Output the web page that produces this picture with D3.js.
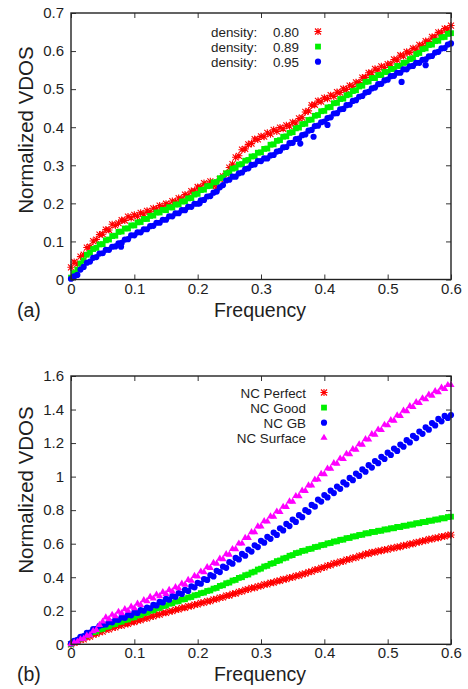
<!DOCTYPE html>
<html>
<head>
<meta charset="utf-8">
<script src="https://cdn.jsdelivr.net/npm/d3@7"></script>
<style>
  html, body { margin: 0; padding: 0; background: #fff; }
  svg { display: block; font-family: "Liberation Sans", Arial, Helvetica, sans-serif; }
</style>
</head>
<body>
<svg id="chart" width="468" height="689"></svg>
<script>
// ---------------- DATA ----------------
// frequency grid (step 0.005, 0 .. 0.6)
const freq = d3.range(121).map(i => Math.round(i * 5) / 1000);

const xTicks = [0, 0.1, 0.2, 0.3, 0.4, 0.5, 0.6];
const xTickLabels = ["0", "0.1", "0.2", "0.3", "0.4", "0.5", "0.6"];
const yTicksA = [0, 0.1, 0.2, 0.3, 0.4, 0.5, 0.6, 0.7];
const yTickLabelsA = ["0", "0.1", "0.2", "0.3", "0.4", "0.5", "0.6", "0.7"];
const yTicksB = [0, 0.2, 0.4, 0.6, 0.8, 1, 1.2, 1.4, 1.6];
const yTickLabelsB = ["0", "0.2", "0.4", "0.6", "0.8", "1", "1.2", "1.4", "1.6"];

const densityLabel = "density:";
const densities = ["0.80", "0.89", "0.95"];
const seriesNamesB = ["NC Perfect", "NC Good", "NC GB", "NC Surface"];

// Panel (a)
const density080 = [
  0.032,0.046,0.041,0.060,0.065,0.084,0.086,0.101,0.105,0.118,
  0.119,0.131,0.130,0.145,0.142,0.148,0.156,0.155,0.165,0.162,
  0.170,0.166,0.175,0.172,0.180,0.178,0.187,0.185,0.194,0.191,
  0.199,0.196,0.206,0.204,0.214,0.211,0.223,0.221,0.232,0.233,
  0.243,0.242,0.253,0.249,0.258,0.247,0.240,0.264,0.271,0.278,
  0.294,0.303,0.321,0.325,0.341,0.343,0.355,0.357,0.369,0.368,
  0.376,0.375,0.385,0.382,0.393,0.389,0.399,0.396,0.405,0.403,
  0.413,0.411,0.423,0.425,0.440,0.443,0.458,0.459,0.469,0.467,
  0.477,0.475,0.484,0.481,0.492,0.491,0.501,0.499,0.509,0.507,
  0.518,0.517,0.530,0.531,0.543,0.543,0.553,0.551,0.560,0.557,
  0.566,0.566,0.578,0.577,0.589,0.587,0.598,0.596,0.607,0.605,
  0.616,0.615,0.626,0.625,0.637,0.637,0.649,0.648,0.659,0.658,
  0.667];
const density089 = [
  0.005,0.017,0.026,0.042,0.050,0.065,0.070,0.080,0.083,0.092,
  0.093,0.103,0.105,0.114,0.115,0.125,0.126,0.134,0.134,0.142,
  0.142,0.150,0.151,0.159,0.159,0.167,0.168,0.176,0.176,0.183,
  0.182,0.190,0.189,0.197,0.197,0.205,0.205,0.213,0.214,0.223,
  0.225,0.235,0.236,0.245,0.246,0.255,0.256,0.266,0.268,0.279,
  0.281,0.291,0.293,0.302,0.303,0.312,0.314,0.323,0.324,0.333,
  0.334,0.343,0.344,0.354,0.355,0.364,0.366,0.375,0.376,0.385,
  0.387,0.397,0.399,0.408,0.409,0.419,0.420,0.430,0.432,0.442,
  0.443,0.452,0.453,0.463,0.464,0.474,0.475,0.484,0.486,0.495,
  0.497,0.507,0.509,0.519,0.520,0.529,0.529,0.537,0.537,0.545,
  0.545,0.553,0.553,0.561,0.561,0.569,0.570,0.579,0.581,0.592,
  0.595,0.605,0.607,0.616,0.617,0.626,0.627,0.636,0.637,0.645,
  0.647];
const density095 = [
  0.002,0.008,0.012,0.026,0.033,0.044,0.047,0.057,0.059,0.068,
  0.069,0.078,0.078,0.086,0.087,0.095,0.096,0.105,0.106,0.116,
  0.116,0.124,0.124,0.132,0.132,0.140,0.141,0.149,0.149,0.157,
  0.157,0.166,0.166,0.174,0.174,0.182,0.182,0.191,0.191,0.199,
  0.199,0.208,0.209,0.218,0.219,0.228,0.231,0.242,0.248,0.260,
  0.262,0.270,0.270,0.279,0.281,0.290,0.292,0.301,0.302,0.311,
  0.311,0.318,0.318,0.326,0.327,0.336,0.338,0.347,0.348,0.358,
  0.359,0.369,0.370,0.379,0.381,0.391,0.393,0.403,0.404,0.413,
  0.415,0.424,0.426,0.436,0.437,0.447,0.448,0.458,0.459,0.469,
  0.471,0.480,0.482,0.491,0.493,0.502,0.504,0.513,0.514,0.523,
  0.525,0.534,0.535,0.543,0.543,0.552,0.552,0.560,0.561,0.569,
  0.569,0.577,0.578,0.586,0.587,0.596,0.598,0.607,0.608,0.617,
  0.620];
// a few scattered 0.95 points below the main band: [frequency, value]
const density095Outliers = [[0.203,0.200],[0.362,0.357],[0.383,0.375],[0.405,0.406],[0.522,0.519],[0.560,0.563],[0.079,0.086]];

// Panel (b)
const ncPerfect = [
  0.000,0.010,0.014,0.026,0.030,0.042,0.046,0.058,0.062,0.073,
  0.076,0.087,0.089,0.099,0.101,0.111,0.112,0.121,0.122,0.132,
  0.133,0.143,0.144,0.154,0.155,0.165,0.166,0.176,0.177,0.187,
  0.188,0.197,0.198,0.207,0.208,0.217,0.218,0.227,0.228,0.237,
  0.238,0.247,0.248,0.257,0.258,0.268,0.269,0.279,0.280,0.290,
  0.291,0.301,0.303,0.313,0.315,0.325,0.327,0.336,0.337,0.346,
  0.348,0.357,0.358,0.367,0.368,0.377,0.379,0.388,0.389,0.398,
  0.399,0.408,0.409,0.419,0.421,0.431,0.434,0.444,0.446,0.456,
  0.459,0.469,0.472,0.482,0.484,0.493,0.495,0.505,0.506,0.516,
  0.517,0.527,0.529,0.539,0.540,0.549,0.549,0.557,0.557,0.565,
  0.565,0.573,0.573,0.581,0.581,0.590,0.590,0.599,0.599,0.608,
  0.609,0.617,0.618,0.627,0.627,0.635,0.635,0.643,0.643,0.651,
  0.652];
const ncGood = [
  0.000,0.013,0.020,0.034,0.040,0.054,0.059,0.072,0.076,0.088,
  0.092,0.104,0.107,0.118,0.121,0.132,0.135,0.145,0.148,0.159,
  0.161,0.172,0.175,0.186,0.189,0.200,0.203,0.214,0.217,0.228,
  0.231,0.242,0.245,0.255,0.257,0.267,0.269,0.279,0.282,0.292,
  0.295,0.305,0.308,0.318,0.321,0.332,0.336,0.348,0.352,0.364,
  0.368,0.380,0.384,0.396,0.400,0.412,0.416,0.428,0.433,0.446,
  0.451,0.464,0.468,0.480,0.484,0.496,0.500,0.512,0.516,0.528,
  0.532,0.544,0.547,0.557,0.559,0.568,0.570,0.580,0.582,0.591,
  0.593,0.602,0.604,0.613,0.614,0.623,0.624,0.633,0.634,0.643,
  0.644,0.652,0.653,0.662,0.662,0.670,0.670,0.677,0.677,0.685,
  0.685,0.692,0.692,0.700,0.699,0.707,0.707,0.714,0.714,0.722,
  0.722,0.729,0.729,0.737,0.737,0.744,0.744,0.752,0.751,0.759,
  0.761];
const ncGB = [
  0.005,0.020,0.026,0.045,0.049,0.068,0.070,0.090,0.092,0.110,
  0.116,0.118,0.133,0.131,0.147,0.146,0.161,0.158,0.176,0.173,
  0.190,0.187,0.204,0.200,0.219,0.215,0.235,0.232,0.253,0.250,
  0.271,0.266,0.288,0.283,0.306,0.300,0.325,0.318,0.345,0.340,
  0.366,0.361,0.389,0.384,0.413,0.405,0.438,0.431,0.463,0.456,
  0.490,0.481,0.515,0.506,0.539,0.528,0.565,0.553,0.590,0.580,
  0.617,0.606,0.641,0.629,0.666,0.652,0.692,0.679,0.718,0.705,
  0.744,0.730,0.770,0.758,0.800,0.790,0.831,0.821,0.863,0.851,
  0.890,0.876,0.916,0.902,0.941,0.927,0.966,0.953,0.992,0.979,
  1.018,1.004,1.043,1.029,1.068,1.054,1.093,1.080,1.118,1.105,
  1.143,1.129,1.167,1.153,1.191,1.178,1.217,1.204,1.243,1.230,
  1.269,1.255,1.294,1.280,1.319,1.305,1.344,1.330,1.362,1.350,
  1.367];
const ncSurface = [
  0.000,0.010,0.015,0.030,0.033,0.052,0.055,0.078,0.086,0.116,
  0.136,0.160,0.150,0.176,0.168,0.194,0.186,0.210,0.200,0.225,
  0.216,0.242,0.235,0.263,0.257,0.283,0.273,0.297,0.287,0.311,
  0.301,0.324,0.315,0.341,0.334,0.362,0.356,0.384,0.379,0.408,
  0.404,0.434,0.430,0.460,0.456,0.485,0.481,0.511,0.508,0.538,
  0.535,0.568,0.567,0.601,0.601,0.635,0.635,0.669,0.669,0.703,
  0.703,0.734,0.732,0.763,0.761,0.792,0.789,0.820,0.819,0.852,
  0.851,0.884,0.883,0.916,0.915,0.948,0.948,0.982,0.983,1.016,
  1.015,1.048,1.047,1.080,1.077,1.108,1.105,1.136,1.133,1.164,
  1.161,1.193,1.191,1.223,1.221,1.253,1.250,1.281,1.278,1.309,
  1.306,1.337,1.334,1.365,1.362,1.393,1.390,1.420,1.415,1.444,
  1.439,1.467,1.461,1.489,1.483,1.510,1.503,1.530,1.523,1.546,
  1.546];

// ---------------- DRAWING ----------------
const svg = d3.select("#chart");
const TEXT = "#1e1e1e";

function marker(g, type, color) {
  if (type === "star") {
    g.append("path")
      .attr("d", "M-3,-3L3,3M-3,3L3,-3M0,-3.6L0,3.6M-3.6,0L3.6,0")
      .attr("stroke", color).attr("stroke-width", 1.1).attr("fill", "none");
  } else if (type === "square") {
    g.append("rect").attr("x", -2.9).attr("y", -2.9).attr("width", 5.8).attr("height", 5.8).attr("fill", color);
  } else if (type === "circle") {
    g.append("circle").attr("r", 3.1).attr("fill", color);
  } else if (type === "triangle") {
    g.append("path").attr("d", d3.symbol(d3.symbolTriangle, 22)()).attr("fill", color);
  }
}

function panel(cfg) {
  const x = d3.scaleLinear().domain([0, 0.6]).range([71, 451]);
  const y = d3.scaleLinear().domain([0, cfg.ymax]).range([cfg.bottom, cfg.top]);
  const g = svg.append("g");

  // data
  cfg.series.forEach(s => {
    const pts = s.values.map((v, i) => [freq[i], v]).concat(s.extra || []);
    g.append("g").selectAll("g").data(pts).join("g")
      .attr("transform", d => `translate(${x(d[0])},${y(d[1])})`)
      .each(function () { marker(d3.select(this), s.type, s.color); });
  });

  // axes with inward ticks
  const ax = g.append("g").attr("transform", `translate(0,${cfg.bottom})`)
    .call(d3.axisBottom(x).tickValues(xTicks).tickFormat((d, i) => xTickLabels[i])
      .tickSizeInner(-5).tickSizeOuter(0).tickPadding(cfg.xPad));
  const ay = g.append("g").attr("transform", "translate(71,0)")
    .call(d3.axisLeft(y).tickValues(cfg.yTicks).tickFormat((d, i) => cfg.yLabels[i])
      .tickSizeInner(-5).tickSizeOuter(0).tickPadding(7));
  const at = g.append("g").attr("transform", `translate(0,${cfg.top})`)
    .call(d3.axisTop(x).tickValues(xTicks).tickFormat("").tickSizeInner(-5).tickSizeOuter(0));
  const ar = g.append("g").attr("transform", "translate(451,0)")
    .call(d3.axisRight(y).tickValues(cfg.yTicks).tickFormat("").tickSizeInner(-5).tickSizeOuter(0));
  [ax, ay, at, ar].forEach(a => {
    a.selectAll(".domain").remove();
    a.selectAll(".tick line").attr("stroke", "#333").attr("stroke-width", 1);
    a.selectAll("text").attr("fill", TEXT).style("font-size", "15px")
      .style("font-family", '"Liberation Sans", Arial, sans-serif');
  });
  g.append("rect").attr("x", 71).attr("y", cfg.top).attr("width", 380).attr("height", cfg.bottom - cfg.top)
    .attr("fill", "none").attr("stroke", "#222").attr("stroke-width", 1.4);

  // axis titles
  g.append("text").attr("x", 260).attr("y", cfg.bottom + 37).attr("text-anchor", "middle")
    .attr("fill", TEXT).style("font-size", "19.5px").text("Frequency");
  g.append("text").attr("transform", `translate(33,${cfg.labelY}) rotate(-90)`).attr("text-anchor", "middle")
    .attr("fill", TEXT).style("font-size", "20.5px").text("Normalized VDOS");
  g.append("text").attr("x", 17).attr("y", cfg.bottom + 37)
    .attr("fill", TEXT).style("font-size", "19.5px").text(cfg.tag);

  // legend
  cfg.series.forEach((s, i) => {
    const yy = cfg.legY + i * cfg.legStep;
    if (s.prefix) {
      g.append("text").attr("x", cfg.legPrefixX).attr("y", yy + 5)
        .attr("fill", TEXT).style("font-size", cfg.legFont).text(s.prefix);
    }
    g.append("text").attr("x", cfg.legTextX).attr("y", yy + 5).attr("text-anchor", "end")
      .attr("fill", TEXT).style("font-size", cfg.legFont).text(s.name);
    const mg = g.append("g").attr("transform", `translate(${cfg.legMarkX},${yy})`);
    marker(mg, s.type, s.color);
  });
}

panel({
  ymax: 0.7, top: 13, bottom: 279.5, xPad: 4,
  yTicks: yTicksA, yLabels: yTickLabelsA, labelY: 130, tag: "(a)",
  legY: 31.5, legStep: 15.1, legTextX: 299, legPrefixX: 211, legMarkX: 318, legFont: "13.4px",
  series: [
    { prefix: densityLabel, name: densities[0], values: density080, type: "star", color: "#ff0000" },
    { prefix: densityLabel, name: densities[1], values: density089, type: "square", color: "#00f000" },
    { prefix: densityLabel, name: densities[2], values: density095, type: "circle", color: "#0000ff", extra: density095Outliers }
  ]
});

panel({
  ymax: 1.6, top: 376, bottom: 644.3, xPad: 3,
  yTicks: yTicksB, yLabels: yTickLabelsB, labelY: 490, tag: "(b)",
  legY: 392.5, legStep: 15.1, legTextX: 306, legMarkX: 324, legFont: "13.4px",
  series: [
    { name: seriesNamesB[0], values: ncPerfect, type: "star", color: "#ff0000" },
    { name: seriesNamesB[1], values: ncGood, type: "square", color: "#00f000" },
    { name: seriesNamesB[2], values: ncGB, type: "circle", color: "#0000ff" },
    { name: seriesNamesB[3], values: ncSurface, type: "triangle", color: "#ff00ff" }
  ]
});
</script>
</body>
</html>
